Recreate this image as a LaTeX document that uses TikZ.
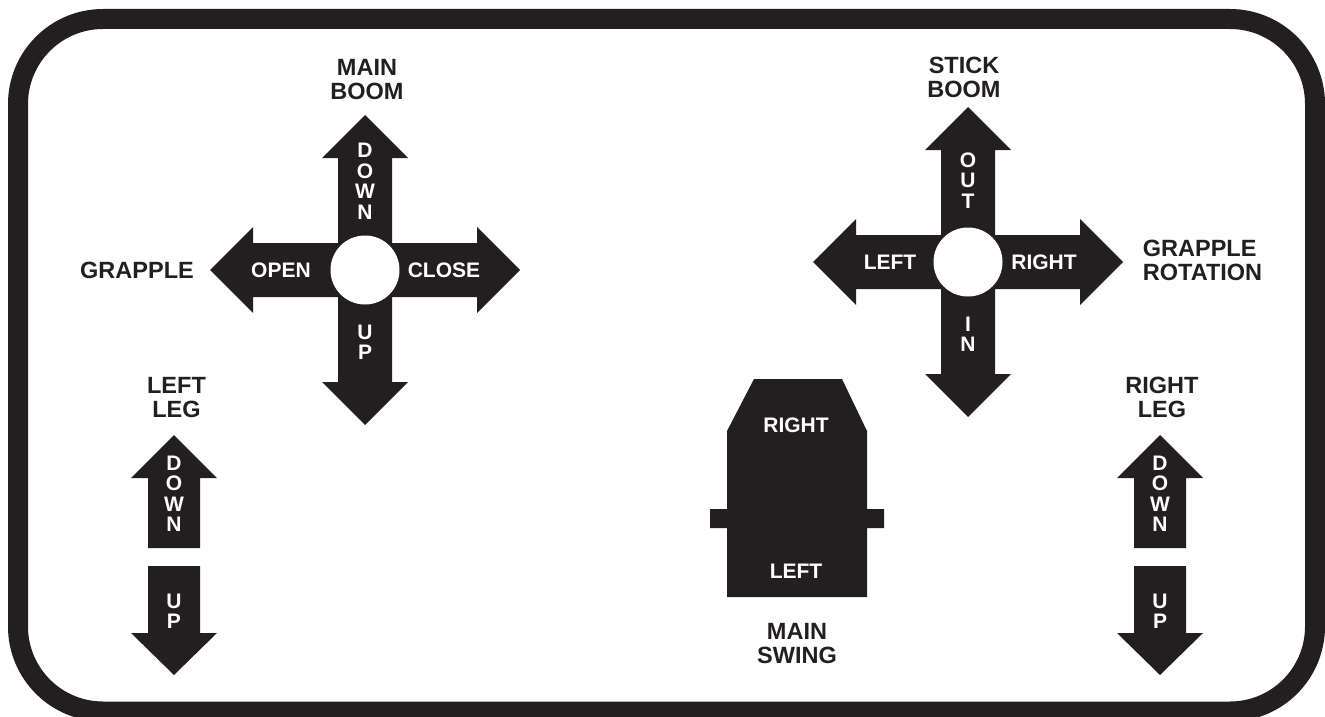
\documentclass[tikz,border=0pt]{standalone}
\usepackage{fontspec}
\setmainfont{Liberation Sans}
\definecolor{ink}{HTML}{231F20}
\tikzset{
  lbl/.style={text=ink, font=\fontsize{23.5}{24}\selectfont\bfseries, align=center, inner sep=0pt},
  lbll/.style={lbl, align=left},
  inl/.style={text=white, font=\fontsize{21}{20.5}\selectfont\bfseries, align=center, inner sep=0pt},
  frame/.style={draw=ink, line width=20pt, rounded corners=85pt},
  crossarrow/.pic={
    \fill[ink] (0,-155) -- (43,-112) -- (27,-112) -- (27,-27) -- (112,-27) -- (112,-43)
      -- (155,0) -- (112,43) -- (112,27) -- (27,27) -- (27,112) -- (43,112)
      -- (0,155) -- (-43,112) -- (-27,112) -- (-27,27) -- (-112,27) -- (-112,43)
      -- (-155,0) -- (-112,-43) -- (-112,-27) -- (-27,-27) -- (-27,-112) -- (-43,-112) -- cycle;
    \fill[white] (0,0) circle[radius=34.5pt];
  },
  legarrows/.pic={
    \fill[ink] (0,435) -- (43,478) -- (26,478) -- (26,548) -- (-26,548) -- (-26,478) -- (-43,478) -- cycle;
    \fill[ink] (-26,566) -- (26,566) -- (26,633) -- (43,633) -- (0,675) -- (-43,633) -- (-26,633) -- cycle;
  }
}
\begin{document}
\begin{tikzpicture}[x=1pt, y=-1pt]
\useasboundingbox (0,0) rectangle (1325,717);
\clip (0,0) rectangle (1325,717);
% frame
\draw[frame] (18,19) rectangle (1315,711.5);

% main boom / grapple cross
\pic at (365,270) {crossarrow};
\node[lbl] (mainboom) at (367,79.5) {MAIN\\BOOM};
\node[lbl] (grapple) at (137,270.5) {GRAPPLE};
\node[inl] (mbdown) at (365,181.5) {D\\O\\W\\N};
\node[inl] (mbup) at (365,342.5) {U\\P};
\node[inl] (gopen) at (281,270.5) {OPEN};
\node[inl] (gclose) at (444,270.5) {CLOSE};

% stick boom / grapple rotation cross
\pic at (968,262) {crossarrow};
\node[lbl] (stickboom) at (964,77) {STICK\\BOOM};
\node[lbll] (grot) at (1202.5,260.5) {GRAPPLE\\ROTATION};
\node[inl] (sbout) at (968,180.5) {O\\U\\T};
\node[inl] (sbin) at (968,334.5) {I\\N};
\node[inl] (grleft) at (890,262.5) {LEFT};
\node[inl] (grright) at (1044,262.5) {RIGHT};

% legs
\pic at (174,0) {legarrows};
\node[lbl] (leftleg) at (176.5,397.5) {LEFT\\LEG};
\node[inl] (lldown) at (174,494) {D\\O\\W\\N};
\node[inl] (llup) at (174,611.5) {U\\P};

\pic at (1160,0) {legarrows};
\node[lbl] (rightleg) at (1162,397.5) {RIGHT\\LEG};
\node[inl] (rldown) at (1160,494) {D\\O\\W\\N};
\node[inl] (rlup) at (1160,611.5) {U\\P};

% main swing
\fill[ink] (754,379) -- (842,379) -- (867,431) -- (867,509) -- (884,509) -- (884,528)
  -- (867,528) -- (867,597) -- (727,597) -- (727,528) -- (710,528) -- (710,509)
  -- (727,509) -- (727,431) -- cycle;
\node[inl] (swright) at (796,425) {RIGHT};
\node[inl] (swleft) at (796,571) {LEFT};
\node[lbl] (mainswing) at (797,644) {MAIN\\SWING};
\end{tikzpicture}
\end{document}
